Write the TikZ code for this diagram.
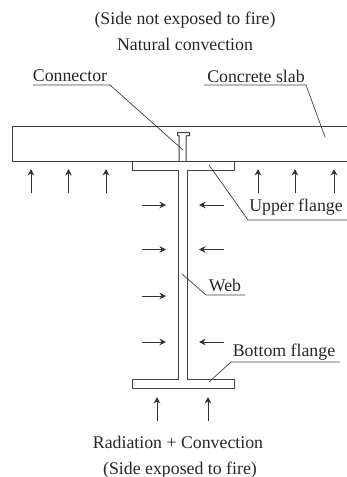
\documentclass[tikz,border=0pt]{standalone}
\usepackage{fontspec}
\setmainfont{Liberation Serif}
\usetikzlibrary{arrows.meta}
\tikzset{
  beamline/.style={line width=1pt,draw=black!75},
  leader/.style={line width=.7pt,draw=black!75},
  heatarrow/.style={arrows=-{Stealth[length=6.5pt,width=6.5pt]},line width=.9pt,draw=black!80,fill=black},
  callout/.style={inner sep=0,text=black!85,font=\fontsize{17.8}{17.8}\selectfont},
  sidetext/.style={inner sep=0,text=black!85,font=\fontsize{17.8}{17.8}\selectfont}
}

\begin{document}
\begin{tikzpicture}[x=1pt,y=-1pt]

\useasboundingbox (0,0) rectangle (347,477);

\begin{scope}

\clip (0,0) rectangle (347,477);

% slab and connector
\draw [beamline] (347,126) -- (12.5,126) -- (12.5,161) -- (347,161);
\draw [beamline] (179,161) -- (179,136) -- (177.5,135.5) -- (177.5,132.5) -- (189.5,132.5) -- (189.5,135.5) -- (186,136) -- (186,161);

% steel section
\draw [beamline] (132,161) -- (132,170) -- (178,170) -- (178,379) -- (132,379) -- (132,388) -- (234,388) -- (234,379) -- (187,379) -- (187,170) -- (234,170) -- (234,161);

% heat arrows
\foreach \xpos in {31,68.5,106,258,295,334}
  \draw [heatarrow] (\xpos,193) -- (\xpos,169);
\foreach \xpos in {157,208}
  \draw [heatarrow] (\xpos,421) -- (\xpos,397);
\foreach \ypos in {205,249.5,296,342}
  \draw [heatarrow] (142,\ypos) -- (166,\ypos);
\foreach \ypos in {205,249.5,342}
  \draw [heatarrow] (224,\ypos) -- (199,\ypos);

% labels
\node [sidetext] (topside) at (185,20) {(Side not exposed to fire)};
\node [sidetext] (topflow) at (185,44) {Natural convection};
\node [sidetext] (botflow) at (178,442) {Radiation + Convection};
\node [sidetext] (botside) at (180,470) {(Side exposed to fire)};
\node [callout] (connlabel) at (70,76) {Connector};
\node [callout] (slablabel) at (256,76) {Concrete slab};
\node [callout] (upperlabel) at (296,207) {Upper flange};
\node [callout] (weblabel) at (225,285) {Web};
\node [callout] (bottomlabel) at (284,352) {Bottom flange};

% leaders
\coordinate (connend) at (183,150);
\coordinate (slabend) at (325,137);
\coordinate (upperend) at (209,165);
\coordinate (webend) at (182,274);
\coordinate (bottomend) at (209,382);
\draw [leader] (33,85) -- (110,85) -- (connend);
\draw [leader] (204,85) -- (306,85) -- (slabend);
\draw [leader] (347,220) -- (248,220) -- (upperend);
\draw [leader] (245,295) -- (206,295) -- (webend);
\draw [leader] (340,362) -- (231,362) -- (bottomend);

\end{scope}

\end{tikzpicture}
\end{document}
